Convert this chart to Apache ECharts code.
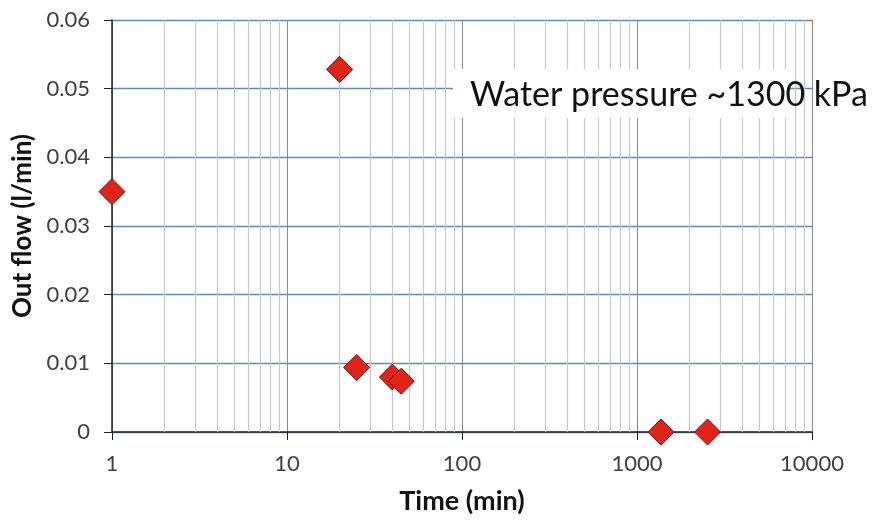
<!DOCTYPE html>
<html>
<head>
<meta charset="utf-8">
<script src="https://cdn.jsdelivr.net/npm/echarts@6/dist/echarts.min.js"></script>
<style>
  html, body { margin: 0; padding: 0; background: #fff; }
  #chart { width: 878px; height: 520px; }
</style>
</head>
<body>
<div id="chart"></div>
<script>
// measured points (time in min, out flow in l/min)
var timeMin = [1, 20, 25, 40, 45, 1370, 2530];
var outFlow = [0.035, 0.0528, 0.0094, 0.0080, 0.0074, 0, 0];

// minor log grid lines (2..9 in each decade)
var minorLines = [];
[1, 10, 100, 1000].forEach(function (d) {
  for (var k = 2; k <= 9; k++) minorLines.push(k * d);
});

var noteText = 'Water pressure ~1300 kPa';

var font = 'Lato, "Open Sans", sans-serif';
var chart = echarts.init(document.getElementById('chart'));

var option = {
  animation: false,
  backgroundColor: '#fff',
  grid: { left: 112, right: 66, top: 20, bottom: 86 },
  xAxis: {
    type: 'log',
    logBase: 10,
    min: 1,
    max: 10000,
    name: 'Time (min)',
    nameLocation: 'middle',
    nameGap: 56,
    nameTextStyle: { fontFamily: font, fontSize: 27, fontWeight: 'bold', color: '#111' },
    axisLine: { onZero: false, lineStyle: { color: '#222', width: 1.5 } },
    axisTick: { show: true, inside: false, length: 8, lineStyle: { color: '#222' } },
    axisLabel: {
      fontFamily: font, fontSize: 22, color: '#404040', margin: 21,
      formatter: function (v) { return String(v); }
    },
    splitLine: { show: true, lineStyle: { color: '#8c8c8c', width: 1 } },
    minorTick: { show: false },
    minorSplitLine: { show: false }
  },
  yAxis: {
    type: 'value',
    min: 0,
    max: 0.06,
    interval: 0.01,
    name: 'Out flow (l/min)',
    nameLocation: 'middle',
    nameGap: 76,
    nameTextStyle: { fontFamily: font, fontSize: 26, fontWeight: 'bold', color: '#111' },
    axisLine: { show: true, lineStyle: { color: '#222', width: 1.5 } },
    axisTick: { show: true, length: 8, lineStyle: { color: '#222' } },
    axisLabel: {
      fontFamily: font, fontSize: 22, color: '#404040', margin: 22,
      formatter: function (v) { return v === 0 ? '0' : v.toFixed(2); }
    },
    splitLine: { show: true, lineStyle: { color: '#5d8ac6', width: 1.3 } }
  },
  series: [
    {
      name: 'grid',
      type: 'scatter',
      data: [],
      silent: true,
      z: 1,
      markLine: {
        silent: true,
        symbol: ['none', 'none'],
        label: { show: false },
        lineStyle: { color: '#c8c8c8', width: 1.2, type: 'solid' },
        data: minorLines.map(function (v) { return { xAxis: v }; })
      }
    },
    {
      name: 'Out flow',
      type: 'scatter',
      symbol: 'diamond',
      symbolSize: 26,
      z: 5,
      itemStyle: { color: '#e2231a', opacity: 1, borderColor: '#6b1010', borderWidth: 1 },
      data: timeMin.map(function (t, i) { return [t, outFlow[i]]; })
    }
  ],
  graphic: [
    {
      type: 'rect',
      z: 100,
      shape: { x: 453, y: 69, width: 334, height: 49 },
      style: { fill: '#fff' }
    },
    {
      type: 'text',
      z: 101,
      left: 470,
      top: 78,
      style: { text: noteText, fontFamily: font, fontSize: 34, fill: '#111' }
    }
  ]
};

chart.setOption(option);
</script>
</body>
</html>
